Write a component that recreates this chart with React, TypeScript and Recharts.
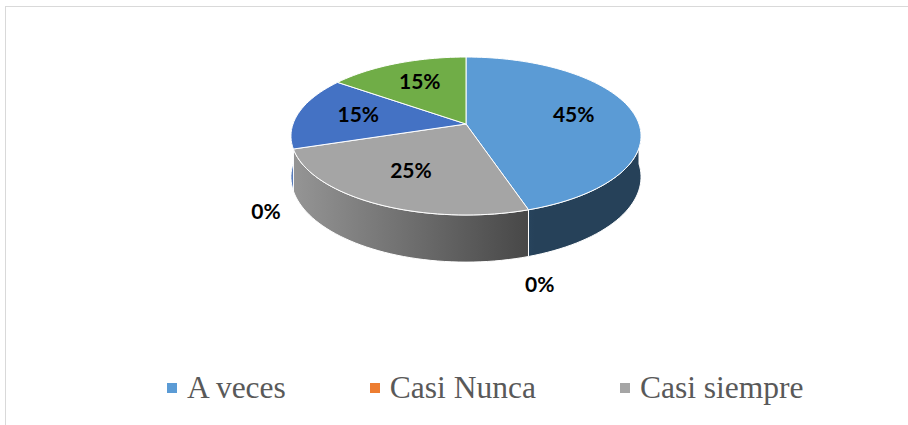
import { PieChart, Pie, Legend } from "recharts"

const categories = ["A veces", "Casi Nunca", "Casi siempre", "Nunca", "Siempre", "Muy frecuente"]
const percentages = [45, 0, 25, 0, 15, 15]
const colors = ["#5B9BD5", "#ED7D31", "#A5A5A5", "#FFC000", "#4472C4", "#70AD47"]
const legendShown = 3

const data = categories.map((name, i) => ({ name, value: percentages[i], fill: colors[i] }))

// fake 3D: tilt + a bit of perspective, depth as a share of the radius
const TILT = 0.446
const PERSP = 0.152
const DEPTH = 0.231

// point on the disc at clock angle theta (deg, cw from 12 o'clock)
function project(cx: number, cy: number, R: number, theta: number, r = 1, h = 0) {
  const a = (theta * Math.PI) / 180
  const u = r * Math.sin(a)
  const v = -r * Math.cos(a)
  const w = 1 - PERSP * v
  return [cx + (R * u) / w, cy + (R * TILT * v + h) / w]
}

const toClock = (deg: number) => 90 - deg

function arc(cx: number, cy: number, R: number, t1: number, t2: number, h: number) {
  const n = Math.max(2, Math.ceil(Math.abs(t2 - t1) / 2))
  const pts: number[][] = []
  for (let i = 0; i <= n; i++) pts.push(project(cx, cy, R, t1 + ((t2 - t1) * i) / n, 1, h))
  return pts
}

const toPath = (pts: number[][]) => pts.map((p, i) => `${i ? "L" : "M"}${p[0].toFixed(2)},${p[1].toFixed(2)}`).join(" ") + " Z"

function shade(hex: string, f: number) {
  const n = parseInt(hex.slice(1), 16)
  const c = [(n >> 16) & 255, (n >> 8) & 255, n & 255].map((x) => Math.round(x * f))
  return `rgb(${c[0]},${c[1]},${c[2]})`
}

const TopFace = (props: any) => {
  const { cx, cy, outerRadius, startAngle, endAngle, fill } = props
  const t1 = toClock(startAngle)
  const t2 = toClock(endAngle)
  if (Math.abs(t2 - t1) < 0.01) return <g />
  const pts = [[cx, cy], ...arc(cx, cy, outerRadius, t1, t2, 0)]
  return <path d={toPath(pts)} fill={fill} stroke="#fff" strokeWidth={1} strokeLinejoin="round" />
}

const SideFace = (props: any) => {
  const { cx, cy, outerRadius, startAngle, endAngle, fill, index } = props
  const a = Math.max(toClock(startAngle), 90)
  const b = Math.min(toClock(endAngle), 270)
  if (b - a < 0.01) return <g />
  const h = outerRadius * DEPTH
  const top = arc(cx, cy, outerRadius, a, b, 0)
  const bottom = arc(cx, cy, outerRadius, b, a, h)
  const id = `side-${index}`
  return (
    <g>
      <defs>
        <linearGradient id={id} gradientUnits="userSpaceOnUse" x1={cx - outerRadius} y1={0} x2={cx + outerRadius * 0.4} y2={0}>
          <stop offset="0" stopColor={shade(fill, 0.9)} />
          <stop offset="1" stopColor={shade(fill, 0.42)} />
        </linearGradient>
      </defs>
      <path d={toPath([...top, ...bottom])} fill={`url(#${id})`} stroke="#fff" strokeWidth={1} />
    </g>
  )
}

const renderLabel = (props: any) => {
  const { cx, cy, midAngle, outerRadius, percent } = props
  const zero = percent === 0
  const [x, y] = project(cx, cy, outerRadius, toClock(midAngle), zero ? 1.15 : 0.64)
  return (
    <text
      x={x}
      y={y + (zero ? outerRadius * DEPTH * 1.45 : -3)}
      textAnchor="middle"
      dominantBaseline="central"
      fill="#000"
      style={{ fontFamily: "Lato, Carlito, Calibri, sans-serif", fontWeight: 700, fontSize: 21 }}
    >
      {`${Math.round(percent * 100)}%`}
    </text>
  )
}

const renderLegend = (props: any) => {
  const seen = new Set<string>()
  const items = (props.payload || [])
    .filter((it: any) => it.type !== "none" && !seen.has(it.value) && seen.add(it.value))
    .slice(0, legendShown)
  return (
    <div
      style={{
        display: "flex",
        alignItems: "center",
        fontFamily: '"Liberation Serif", "Times New Roman", serif',
        fontSize: 31.5,
        lineHeight: "32px",
        color: "#595959",
        whiteSpace: "nowrap",
      }}
    >
      {items.map((it: any, i: number) => (
        <div key={i} style={{ display: "flex", alignItems: "center", marginRight: 84 }}>
          <span style={{ display: "inline-block", width: 10, height: 10, background: it.color, marginRight: 10 }} />
          <span>{it.value}</span>
        </div>
      ))}
    </div>
  )
}

export default function App() {
  return (
    <div style={{ position: "absolute", left: 0, top: 0, width: 908, height: 425, overflow: "hidden", background: "#fff" }}>
      <div
        style={{
          position: "absolute",
          left: 5,
          top: 6,
          width: 903,
          height: 419,
          borderTop: "1.5px solid #d9d9d9",
          borderLeft: "1.5px solid #d9d9d9",
          boxSizing: "border-box",
        }}
      />
      <PieChart
        width={908}
        height={425}
        margin={{ top: 0, right: 0, bottom: 0, left: 0 }}
        style={{ position: "absolute", left: 0, top: 0 }}
      >
        <Pie
          data={data}
          dataKey="value"
          nameKey="name"
          cx={466}
          cy={124}
          outerRadius={173}
          startAngle={90}
          endAngle={-270}
          stroke="none"
          shape={SideFace}
          activeShape={SideFace}
          inactiveShape={SideFace}
          isAnimationActive={false}
          legendType="none"
        />
        <Pie
          data={data}
          dataKey="value"
          nameKey="name"
          cx={466}
          cy={124}
          outerRadius={173}
          startAngle={90}
          endAngle={-270}
          stroke="none"
          shape={TopFace}
          activeShape={TopFace}
          inactiveShape={TopFace}
          label={renderLabel}
          labelLine={false}
          isAnimationActive={false}
        />
        <Legend
          content={renderLegend}
          wrapperStyle={{ position: "absolute", left: 167, top: 372, width: "auto", height: "auto" }}
        />
      </PieChart>
    </div>
  )
}
